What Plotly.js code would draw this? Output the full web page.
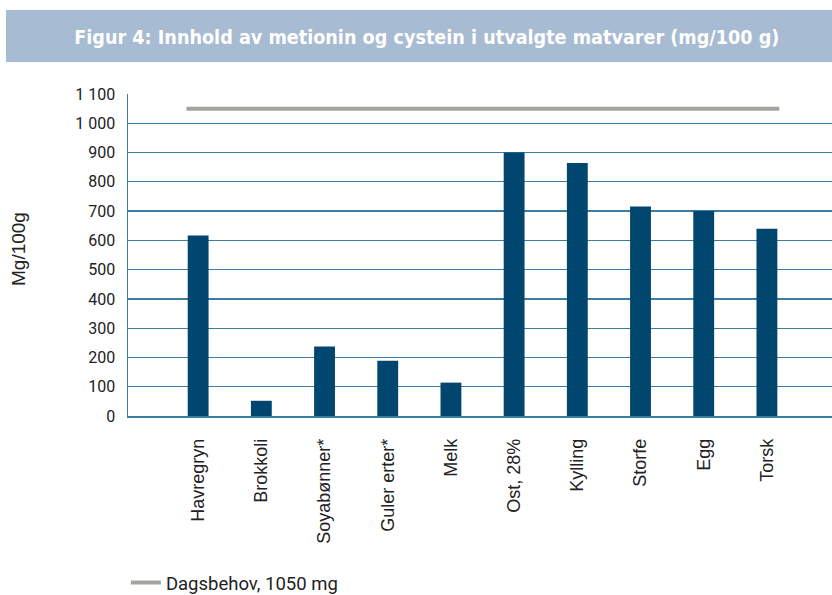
<!DOCTYPE html>
<html>
<head>
<meta charset="utf-8">
<script src="https://cdn.plot.ly/plotly-3.0.1.min.js"></script>
<style>html,body{margin:0;padding:0;background:#fff;}#chart{width:832px;height:595px;}</style>
</head>
<body>
<div id="chart"></div>
<script>
const categories = ["Havregryn","Brokkoli","Soyabønner*","Guler erter*","Melk","Ost, 28%","Kylling","Storfe","Egg","Torsk"];
const values = [617, 52, 237, 189, 114, 900, 864, 716, 700, 640];
const dailyNeed = 1050;
const dailyNeedLabel = "Dagsbehov, 1050 mg";
const yTickVals = [0,100,200,300,400,500,600,700,800,900,1000,1100];
const yTickText = ["0","100","200","300","400","500","600","700","800","900","1 000","1 100"];
const titleText = "Figur 4: Innhold av metionin og cystein i utvalgte matvarer (mg/100 g)";
const yTitle = "Mg/100g";

const gridBlue = "#3d7ba3";
const traces = [
  {
    type: "bar", x: categories, y: values, width: 0.33,
    marker: {color: "#00466e"}, showlegend: false, hoverinfo: "skip"
  },
  {
    type: "scatter", mode: "lines", x: categories, y: categories.map(() => dailyNeed),
    xaxis: "x2", name: dailyNeedLabel,
    line: {color: "#a3a49b", width: 4}, showlegend: true
  }
];

const layout = {
  width: 832, height: 595,
  margin: {l: 128, r: 0, t: 94, b: 179, autoexpand: false},
  paper_bgcolor: "#fff", plot_bgcolor: "#fff",
  font: {family: "Roboto", color: "#222"},
  title: {
    text: "<b>" + titleText + "</b>",
    x: 0.513, y: 1 - 37/595, xref: "container", yref: "container",
    xanchor: "center", yanchor: "middle",
    font: {family: "DejaVu Sans Condensed", size: 19.6, color: "#ffffff"}
  },
  xaxis: {
    type: "category", range: [-1.11, 10.03], showgrid: false,
    showline: true, linecolor: gridBlue, linewidth: 1.5,
    ticks: "", tickangle: -90, ticklabelstandoff: 14,
    tickfont: {family: "Liberation Sans", size: 18, color: "#222"},
    fixedrange: true
  },
  xaxis2: {
    type: "category", overlaying: "x", range: [-0.887, 9.80],
    showgrid: false, showticklabels: false, showline: false, ticks: "", zeroline: false
  },
  yaxis: {
    range: [0, 1100], tickvals: yTickVals, ticktext: yTickText,
    showgrid: true, gridcolor: gridBlue, gridwidth: 1.3,
    showline: true, linecolor: gridBlue, linewidth: 1.5,
    zeroline: false, ticks: "", ticklabelstandoff: 8,
    tickfont: {family: "Roboto", size: 16, color: "#222"}
  },
  legend: {
    orientation: "h", x: -0.003, xanchor: "left",
    yref: "container", y: 1 - 583 / 595, yanchor: "middle",
    font: {family: "Roboto", size: 18.5, color: "#222"}, bgcolor: "rgba(0,0,0,0)"
  },
  shapes: [{
    type: "rect", xref: "paper", yref: "paper", layer: "below",
    x0: (6 - 128) / 704, x1: 1.01, y0: (416 - 62) / 322, y1: (416 - 10) / 322,
    fillcolor: "#a7bbd2", line: {width: 0}
  }],
  annotations: [{
    text: yTitle, xref: "paper", yref: "paper",
    x: (18 - 128) / 704, y: (416 - 249) / 322, textangle: -90,
    showarrow: false, xanchor: "center", yanchor: "middle",
    font: {family: "Liberation Sans", size: 19, color: "#222"}
  }],
  bargap: 0.67
};

Plotly.newPlot("chart", traces, layout, {displayModeBar: false, staticPlot: true});
</script>
</body>
</html>
